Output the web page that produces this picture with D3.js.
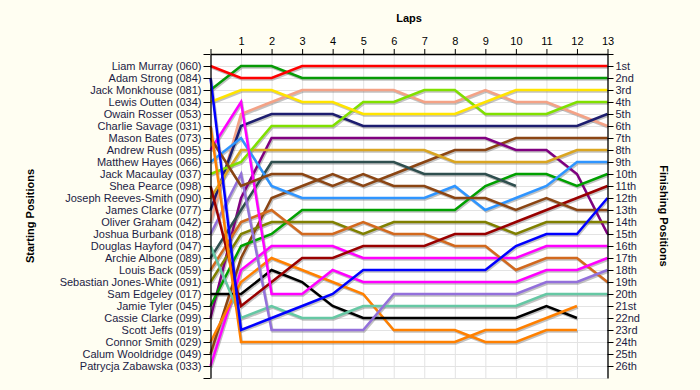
<!DOCTYPE html>
<html>
<head>
<meta charset="utf-8">
<script src="https://cdn.jsdelivr.net/npm/d3@7"></script>
<style>
  body { margin: 0; background: #fffef2; }
  svg { display: block; font-family: "Liberation Sans", Arial, sans-serif; }
</style>
</head>
<body>
<svg id="chart" width="700" height="390"></svg>
<script>
"use strict";

// Lap chart: starting grid on the left, finishing order on the right

let drivers = [
  'Liam Murray', 'Adam Strong', 'Jack Monkhouse', 'Lewis Outten', 'Owain Rosser',
  'Charlie Savage', 'Mason Bates', 'Andrew Rush', 'Matthew Hayes', 'Jack Macaulay',
  'Shea Pearce', 'Joseph Reeves-Smith', 'James Clarke', 'Oliver Graham', 'Joshua Burbank',
  'Douglas Hayford', 'Archie Albone', 'Louis Back', 'Sebastian Jones-White', 'Sam Edgeley',
  'Jamie Tyler', 'Cassie Clarke', 'Scott Jeffs', 'Connor Smith', 'Calum Wooldridge',
  'Patrycja Zabawska'
];
let carNumbers = [
  '060', '084', '081', '034', '053', '031', '073', '095', '066', '037', '098', '090', '077',
  '042', '018', '047', '089', '059', '091', '017', '045', '099', '019', '029', '049', '033'
];

// position at lap 0 (grid) .. last lap completed
let lapPositions = [
  [1, 2, 2, 1, 1, 1, 1, 1, 1, 1, 1, 1, 1, 1],
  [2, 23, 22, 21, 20, 18, 18, 18, 18, 18, 16, 15, 15, 12],
  [3, 1, 1, 2, 2, 2, 2, 2, 2, 2, 2, 2, 2, 2],
  [4, 3, 3, 4, 4, 5, 5, 5, 5, 4, 3, 3, 3, 3],
  [5],
  [6, 24, 24, 24, 24, 24, 24, 24, 24, 23, 23, 22, 21],
  [7, 11, 10, 10, 11, 10, 11, 11, 12, 12, 13, 12, 13, 13],
  [8, 4, 20, 20, 18, 19, 19, 19, 19, 19, 19, 18, 18, 17],
  [9, 7, 11, 12, 12, 12, 12, 12, 11, 13, 12, 11, 9, 9],
  [10, 9, 6, 6, 6, 4, 4, 3, 3, 5, 5, 5, 4, 4],
  [11, 21, 19, 17, 17, 16, 16, 16, 15, 15, 14, 13, 12, 11],
  [12, 8, 8, 8, 8, 8, 8, 8, 9, 9, 9, 9, 8, 8],
  [13, 6, 5, 5, 5, 6, 6, 6, 6, 6, 6, 6, 6, 5],
  [14, 5, 4, 3, 3, 3, 3, 4, 4, 3, 4, 4, 5, 6],
  [15, 10, 23, 23, 23, 23, 20, 20, 20, 20, 20, 19, 19, 18],
  [16, 22, 21, 22, 22, 21, 21, 21, 21, 21, 21, 20, 20, 20],
  [17, 13, 9, 9, 9, 9, 9, 10, 10, 10, 11],
  [18, 14, 13, 15, 15, 14, 15, 15, 16, 16, 18, 17, 17, 19],
  [19, 15, 14, 14, 14, 15, 14, 14, 14, 14, 15, 14, 14, 14],
  [20, 20, 18, 19, 21, 22, 22, 22, 22, 22, 22, 21, 22],
  [21, 16, 15, 13, 13, 13, 13, 13, 13, 11, 10, 10, 11, 10],
  [22, 12, 7, 7, 7, 7, 7, 7, 7, 7, 8, 8, 10, 15],
  [23],
  [24, 19, 17, 18, 19, 20, 23, 23, 23, 24, 24, 23, 23],
  [25, 17, 12, 11, 10, 11, 10, 9, 8, 8, 7, 7, 7, 7],
  [26, 18, 16, 16, 16, 17, 17, 17, 17, 17, 17, 16, 16, 16]
];

let laps = d3.range(0, 14);
let finishLabels = [
  '1st', '2nd', '3rd', '4th', '5th', '6th', '7th', '8th', '9th', '10th', '11th', '12th', '13th',
  '14th', '15th', '16th', '17th', '18th', '19th', '20th', '21st', '22nd', '23rd', '24th', '25th', '26th'
];

let lineColors = [
  '#ff0000', '#0000ff', '#079a07', '#ffe400', '#999999', '#ff8000', '#8b4513', '#ff00ff',
  '#2f95ff', '#80e000', '#990000', '#daa520', '#1e1e70', '#f4a286', '#9370db', '#66c8a4',
  '#2f4f4f', '#d2691e', '#808000', '#000000', '#00a000', '#800080', '#999999', '#ff8000',
  '#8b4513', '#ff00ff'
];

let svg = d3.select('#chart');
let x = d3.scaleLinear().domain([0, 13]).range([210.5, 607.5]);
let y = d3.scaleLinear().domain([0, 27]).range([54, 378]);
let textColor = '#1c1c44';

svg.append('rect')
  .attr('x', x(0)).attr('y', y(0))
  .attr('width', x(13) - x(0)).attr('height', y(27) - y(0))
  .attr('fill', '#ffffff');

// grid
let grid = svg.append('g').attr('stroke', '#e3e3e3').attr('stroke-width', 1);
grid.selectAll('line.v')
  .data(laps.slice(1))
  .enter()
  .append('line')
  .attr('x1', (d) => x(d) + 0.5).attr('x2', (d) => x(d) + 0.5)
  .attr('y1', y(0)).attr('y2', y(27));
grid.selectAll('line.h')
  .data(d3.range(1, 28))
  .enter()
  .append('line')
  .attr('x1', x(0)).attr('x2', x(13))
  .attr('y1', (d) => y(d) + 0.5).attr('y2', (d) => y(d) + 0.5);

// lines with a soft shadow
let line = d3.line()
  .x((d, i) => x(i))
  .y((d) => y(d));

let order = d3.range(drivers.length).reverse();
let shadows = svg.append('g').attr('transform', 'translate(1,1.5)');
let lines = svg.append('g');

shadows.selectAll('path')
  .data(order.filter((i) => lapPositions[i].length > 1))
  .enter()
  .append('path')
  .attr('d', (i) => line(lapPositions[i]))
  .attr('fill', 'none')
  .attr('stroke', '#777')
  .attr('stroke-opacity', 0.45)
  .attr('stroke-width', 2.5);

lines.selectAll('path')
  .data(order.filter((i) => lapPositions[i].length > 1))
  .enter()
  .append('path')
  .attr('d', (i) => line(lapPositions[i]))
  .attr('fill', 'none')
  .attr('stroke', (i) => lineColors[i])
  .attr('stroke-width', 2.5)
  .attr('stroke-linejoin', 'miter');

// axes
let styleAxis = (g) => {
  g.selectAll('.domain').attr('stroke', '#000').attr('stroke-width', 1.3);
  g.selectAll('.tick line').attr('stroke', '#000');
  g.selectAll('.tick text').attr('fill', textColor).attr('font-size', 11)
    .attr('font-family', '"Liberation Sans", Arial, sans-serif');
};

svg.append('g')
  .attr('transform', `translate(0,${y(0)})`)
  .call(d3.axisTop(x).tickValues(laps).tickSize(5).tickSizeOuter(0)
    .tickFormat((d) => d === 0 ? '' : d))
  .call(styleAxis)
  .call((g) => g.selectAll('.tick text').attr('fill', '#000').attr('dy', '-0.1em'));

svg.append('g')
  .attr('transform', `translate(${x(0)},0)`)
  .call(d3.axisLeft(y).tickValues(d3.range(0, 28)).tickSize(7).tickSizeOuter(0)
    .tickPadding(2)
    .tickFormat((d) => (d >= 1 && d <= 26) ? `${drivers[d - 1]} (${carNumbers[d - 1]})` : ''))
  .call(styleAxis);

svg.append('g')
  .attr('transform', `translate(${x(13)},0)`)
  .call(d3.axisRight(y).tickValues(d3.range(0, 27)).tickSize(6).tickSizeOuter(0)
    .tickPadding(2)
    .tickFormat((d) => d >= 1 ? finishLabels[d - 1] : ''))
  .call(styleAxis);

// titles
svg.append('text')
  .attr('x', (x(0) + x(13)) / 2).attr('y', 22)
  .attr('text-anchor', 'middle')
  .attr('font-size', 11).attr('font-weight', 'bold')
  .text('Laps');

svg.append('text')
  .attr('transform', `translate(34,${(y(0) + y(27)) / 2}) rotate(-90)`)
  .attr('text-anchor', 'middle')
  .attr('font-size', 11).attr('font-weight', 'bold')
  .text('Starting Positions');

svg.append('text')
  .attr('transform', `translate(660,${(y(0) + y(27)) / 2}) rotate(90)`)
  .attr('text-anchor', 'middle')
  .attr('font-size', 11).attr('font-weight', 'bold')
  .text('Finishing Positions');
</script>
</body>
</html>
